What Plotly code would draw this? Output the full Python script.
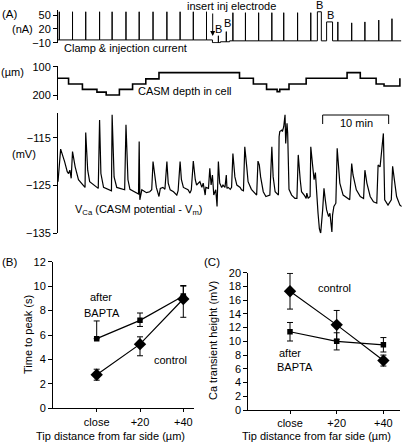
import plotly.graph_objects as go

W, H = 407, 442
FONT = "Liberation Sans, Arial, sans-serif"

# ---------------- Panel A data (time in min) ----------------
# clamp & injection current (nA)
pulse_on = [0.2, 2.2, 4.2, 6.3, 8.2, 10.3, 12.3, 14.4, 16.5, 18.5, 20.5, 22.5,
            24.3, 25.5,
            26.5, 28.4, 30.4, 32.4, 34.2, 36.3, 38.3,
            39.3, 40.7,
            42.4, 44.5, 46.5, 48.6, 50.6]
pulse_off = [0.2, 2.2, 4.2, 6.3, 8.2, 10.3, 12.3, 14.4, 16.5, 18.5, 20.5, 22.5,
             24.3, 25.5,
             26.5, 28.4, 30.4, 32.4, 34.2, 36.3, 38.3,
             39.9, 41.6,
             42.4, 44.5, 46.5, 48.6, 50.6]
pulse_amp = [57, 57, 57, 57, 57, 57, 57, 57, 57, 57, 57, 57,
             5, 14,
             55, 55, 55, 55, 55, 55, 55,
             57, 35,
             35, 33, 35, 39, 42]
base_t = [0.0, 23.4, 24.6, 26.0, 52.0]
base_i = [-4, -10, -8, -6, -6]

# CASM depth in cell (um), step changes
depth_t = [0.0, 1.6, 3.7, 5.9, 7.3, 9.3, 11.3, 13.3, 15.3, 27.5, 29.6, 31.6,
           33.2, 33.6, 34.0, 35.0, 37.6, 43.8, 45.8, 48.2, 49.4, 51.8]
depth_v = [141, 161, 180, 190, 200, 180, 161, 143, 121, 141, 161, 180,
           188, 180, 180, 161, 141, 121, 141, 161, 168, 141]

# V_Ca (mV)
vca_t = [0.0, 0.4, 1.0, 1.4, 1.6, 1.8, 2.0,
         2.2, 2.6, 3.1, 3.8, 4.1,
         4.2, 4.5, 4.8, 5.8, 6.1,
         6.3, 6.5, 6.9, 7.9, 8.1,
         8.2, 8.5, 8.9, 9.9, 10.1,
         10.3, 10.6, 10.9, 11.9, 12.2,
         12.3, 12.4, 12.7, 13.4, 13.9, 14.2,
         14.4, 14.7, 14.9, 15.3, 15.5, 15.9, 16.2,
         16.5, 16.7, 17.0, 17.5, 18.0, 18.2,
         18.5, 18.7, 19.0, 19.7, 20.0, 20.2,
         20.5, 20.8, 21.0,
         21.5, 21.8, 22.0, 22.3, 22.4, 22.8,
         23.0, 23.2, 23.4, 23.6, 23.9, 24.1,
         24.3, 24.5, 24.8, 25.0, 25.3, 25.5, 25.6, 25.8, 26.1, 26.3,
         26.5, 26.8, 27.1, 27.6, 27.8, 28.1,
         28.3, 28.6, 28.8, 29.3, 29.8, 30.1,
         30.3, 30.5, 30.7, 31.1, 31.5, 32.1,
         32.4, 32.6, 32.9, 33.4,
         33.5, 33.6, 33.9, 34.0, 34.2, 34.4, 34.5, 34.7, 34.8, 34.9, 35.0, 35.4, 35.9, 36.2,
         36.4, 36.7, 36.9, 37.3, 37.6, 37.7, 37.9, 38.2,
         38.3, 38.6, 38.8, 39.0, 39.2, 39.4, 39.6, 39.8,
         40.1, 40.3, 40.5, 40.7, 41.0, 41.2, 41.5, 41.6, 41.8, 42.1,
         42.3, 42.5, 42.7, 43.2, 43.7, 44.2,
         44.5, 44.7, 45.2, 45.8, 46.3,
         46.5, 46.8, 47.3, 47.8, 48.3,
         48.5, 48.8, 49.0, 49.3, 49.4, 49.5, 50.0, 50.5,
         50.7, 51.0, 51.3, 51.8, 52.1]
vca_v = [-124.2, -117.4, -120.0, -122.1, -122.5, -121.8, -123.5,
         -117.9, -121.1, -123.8, -124.9, -125.4,
         -113.9, -121.8, -124.2, -125.4, -125.6,
         -111.3, -122.5, -125.4, -125.9, -126.1,
         -110.2, -123.2, -125.4, -125.8, -125.9,
         -112.3, -123.8, -125.8, -126.6, -126.8,
         -115.8, -128.0, -125.9, -126.5, -126.3, -125.9,
         -120.0, -123.8, -125.4, -127.3, -125.6, -125.4, -125.8,
         -120.0, -124.5, -125.9, -126.3, -127.0, -126.1,
         -120.0, -123.8, -125.4, -125.9, -126.6, -125.9,
         -119.9, -123.8, -124.9,
         -124.2, -125.4, -124.5, -127.0, -125.4, -125.6,
         -121.4, -124.9, -122.8, -127.0, -125.9, -129.4,
         -120.0, -124.5, -125.4, -124.9, -125.4, -122.8, -125.6, -125.4, -125.8, -125.4,
         -118.3, -123.2, -124.9, -125.4, -125.9, -126.1,
         -116.9, -121.1, -124.2, -125.8, -126.6, -127.0,
         -119.9, -120.7, -123.2, -126.3, -127.3, -127.0,
         -116.9, -123.2, -126.3, -127.0,
         -114.8, -113.7, -113.4, -113.7, -112.7, -110.2, -116.2, -112.0, -114.1, -121.1, -125.8, -127.0, -127.7, -127.7,
         -118.6, -123.8, -126.3, -127.0, -127.7, -126.6, -127.7, -127.3,
         -116.9, -121.1, -123.8, -122.3, -128.0, -130.8, -134.0, -135.0,
         -130.1, -125.6, -128.0, -130.1, -131.5, -130.8, -134.7, -131.2, -129.4, -128.7,
         -117.2, -122.1, -124.5, -127.0, -127.5, -128.0,
         -120.4, -122.8, -125.9, -127.3, -127.7,
         -121.8, -124.5, -127.3, -128.4, -128.7,
         -120.7, -121.1, -118.3, -114.1, -121.1, -128.0, -129.1, -128.0,
         -121.0, -123.8, -127.3, -129.1, -129.4]

scale_bar_min = [40.1, 50.1]

# ---------------- Panels B, C data ----------------
categories = ["close", "+20", "+40"]
cat_pos = [0, 1, 2]

b_control = [2.75, 5.25, 8.95]
b_control_up = [0.45, 0.6, 1.05]
b_control_dn = [0.45, 0.95, 1.5]
b_bapta = [5.7, 7.2, 9.2]
b_bapta_up = [1.45, 0.6, 0.85]
b_bapta_dn = [0, 0.5, 0]

c_control = [17.3, 12.4, 7.2]
c_control_err = [2.6, 2.1, 0.8]
c_bapta = [11.4, 10.0, 9.5]
c_bapta_err = [1.35, 1.25, 1.05]


# ---------------- build current trace ----------------
def base_at(t):
    lvl = base_i[0]
    for bt, bi in zip(base_t, base_i):
        if bt <= t:
            lvl = bi
    return lvl

segs = []
for k in range(1, len(base_t) - 1):
    segs.append((base_t[k], [(base_t[k], base_i[k - 1]), (base_t[k], base_i[k])]))
for on, off, amp in zip(pulse_on, pulse_off, pulse_amp):
    b = base_at(on)
    segs.append((on, [(on, b), (on, amp), (off, amp), (off, b)]))
segs.sort(key=lambda s: s[0])
cur_x = [base_t[0]]
cur_y = [base_i[0]]
for _, pts in segs:
    for px_, py_ in pts:
        cur_x.append(px_)
        cur_y.append(py_)
cur_x.append(base_t[-1])
cur_y.append(base_i[-1])


def fx(px):
    return px / W


def fy(py):
    return 1 - py / H


fig = go.Figure()

fig.add_trace(go.Scatter(x=cur_x, y=cur_y, mode="lines", line=dict(color="black", width=1),
                         xaxis="x", yaxis="y", hoverinfo="skip"))
fig.add_trace(go.Scatter(x=depth_t, y=depth_v, mode="lines", line=dict(color="black", width=1.6, shape="hv"),
                         xaxis="x", yaxis="y2", hoverinfo="skip"))
fig.add_trace(go.Scatter(x=vca_t, y=vca_v, mode="lines", line=dict(color="black", width=1.2),
                         xaxis="x", yaxis="y3", hoverinfo="skip"))

# Panel B
fig.add_trace(go.Scatter(x=cat_pos, y=b_bapta, mode="lines+markers", xaxis="x2", yaxis="y4",
                         line=dict(color="black", width=1.2),
                         marker=dict(symbol="square", size=5.5, color="black"),
                         error_y=dict(type="data", symmetric=False, array=b_bapta_up, arrayminus=b_bapta_dn,
                                      color="black", thickness=1, width=3)))
fig.add_trace(go.Scatter(x=cat_pos, y=b_control, mode="lines+markers", xaxis="x2", yaxis="y4",
                         line=dict(color="black", width=1.2),
                         marker=dict(symbol="diamond", size=9.5, color="black"),
                         error_y=dict(type="data", symmetric=False, array=b_control_up, arrayminus=b_control_dn,
                                      color="black", thickness=1, width=3)))
# Panel C
fig.add_trace(go.Scatter(x=cat_pos, y=c_bapta, mode="lines+markers", xaxis="x3", yaxis="y5",
                         line=dict(color="black", width=1.2),
                         marker=dict(symbol="square", size=5.5, color="black"),
                         error_y=dict(type="data", array=c_bapta_err, color="black", thickness=1, width=3)))
fig.add_trace(go.Scatter(x=cat_pos, y=c_control, mode="lines+markers", xaxis="x3", yaxis="y5",
                         line=dict(color="black", width=1.2),
                         marker=dict(symbol="diamond", size=9.5, color="black"),
                         error_y=dict(type="data", array=c_control_err, color="black", thickness=1, width=3)))

tickfont = dict(family=FONT, size=11, color="black")
yax = dict(showline=True, linecolor="black", linewidth=1, ticks="outside", ticklen=4, tickwidth=1,
           tickcolor="black", showgrid=False, zeroline=False, tickfont=tickfont, automargin=False,
           fixedrange=True)
xcat = dict(yax, ticklen=3)

# Panel A time axis: 6.6 px per min, t=0 at px 58
x_a0, x_a1 = 58, 401.7
# current axis: 50 nA at py 15, -10 nA at py 42.7
cur_top_py, cur_bot_py = 10, 43.3
cpp = 60 / (42.7 - 15)
cur_range = [-10 - (cur_bot_py - 42.7) * cpp, 50 + (15 - cur_top_py) * cpp]
# depth axis: 100 at py 66.7, 200 at py 95
d_top_py, d_bot_py = 66, 100
dpp = 100 / (95 - 66.7)
d_range = [200 + (d_bot_py - 95) * dpp, 100 - (66.7 - d_top_py) * dpp]
# voltage axis: -115 at py 137.7, -135 at py 233.3
v_top_py, v_bot_py = 113.3, 233.3
vpp = 20 / (233.3 - 137.7)
v_range = [-135, -115 + (137.7 - v_top_py) * vpp]

fig.update_layout(
    width=W, height=H, autosize=False,
    margin=dict(l=0, r=0, t=0, b=0),
    paper_bgcolor="white", plot_bgcolor="white",
    showlegend=False, template="none",
    font=dict(family=FONT, size=11, color="black"),
    xaxis=dict(domain=[fx(x_a0), fx(x_a1)], range=[0, (x_a1 - x_a0) / 6.6], visible=False,
               anchor="y3", fixedrange=True),
    yaxis=dict(yax, domain=[fy(cur_bot_py), fy(cur_top_py)], range=cur_range,
               tickvals=[50, 20, -10], anchor="x"),
    yaxis2=dict(yax, domain=[fy(d_bot_py), fy(d_top_py)], range=d_range,
                tickvals=[100, 200], anchor="x"),
    yaxis3=dict(yax, domain=[fy(v_bot_py), fy(v_top_py)], range=v_range,
                tickvals=[-115, -125, -135], anchor="x"),
    xaxis2=dict(xcat, domain=[fx(53), fx(194)], range=[-(96.7 - 53) / 43.3, (194 - 96.7) / 43.3],
                tickvals=cat_pos, ticktext=categories, anchor="y4"),
    yaxis4=dict(yax, domain=[fy(408.3), fy(261.7)], range=[0, 12], dtick=2, anchor="x2"),
    xaxis3=dict(xcat, domain=[fx(248.3), fx(400)], range=[-(290 - 248.3) / 46.7, (400 - 290) / 46.7],
                tickvals=cat_pos, ticktext=categories, anchor="y5"),
    yaxis5=dict(yax, domain=[fy(410), fy(272.7)], range=[0, 20], dtick=2, anchor="x3"),
)


def ann(text, px, py, size=11, xanchor="center", angle=0):
    return dict(text=text, x=fx(px), y=fy(py), xref="paper", yref="paper", showarrow=False,
                xanchor=xanchor, yanchor="middle", textangle=angle,
                font=dict(family=FONT, size=size, color="black"))


annotations = [
    ann("(A)", 0, 14, 11.5, "left"),
    ann("(nA)", 22, 29),
    ann("(µm)", 12, 72),
    ann("(mV)", 23.5, 154),
    ann("insert inj electrode", 231, 6),
    ann("B", 219, 29), ann("B", 227, 23), ann("B", 319.5, 5.5), ann("B", 330.5, 15),
    ann("Clamp & injection current", 62, 47.5, 11, "left"),
    ann("CASM depth in cell", 136, 91.5, 11, "left"),
    ann("V<sub>Ca</sub> (CASM potential - V<sub>m</sub>)", 72.5, 210, 11, "left"),
    ann("10 min", 356, 123),
    ann("(B)", 0, 262, 11.5, "left"),
    ann("(C)", 202, 262, 11.5, "left"),
    ann("Time to peak (s)", 28, 335, 11, "center", -90),
    ann("Ca transient height (mV)", 213, 341, 11, "center", -90),
    ann("Tip distance from far side (µm)", 110, 435.5),
    ann("Tip distance from far side (µm)", 316, 435.5),
    ann("after", 101, 297), ann("BAPTA", 102, 313), ann("control", 170, 360),
    ann("control", 334, 288), ann("after", 290, 353), ann("BAPTA", 295, 367),
]
# arrow for electrode insertion
annotations.append(dict(x=fx(212.7), y=fy(36), xref="paper", yref="paper", ax=0, ay=-24,
                        text="", showarrow=True, arrowhead=2, arrowsize=1, arrowwidth=1,
                        arrowcolor="black", standoff=0))
fig.update_layout(annotations=annotations)

# 10 min scale bar
fig.add_shape(type="path", xref="x", yref="paper",
              path=f"M {scale_bar_min[0]},{fy(124)} L {scale_bar_min[0]},{fy(115)} "
                   f"L {scale_bar_min[1]},{fy(115)} L {scale_bar_min[1]},{fy(124)}",
              line=dict(color="black", width=1))

fig.write_html("out.html", config={"displayModeBar": False},
               post_script="document.body.style.margin='0';document.body.style.overflow='hidden';")
